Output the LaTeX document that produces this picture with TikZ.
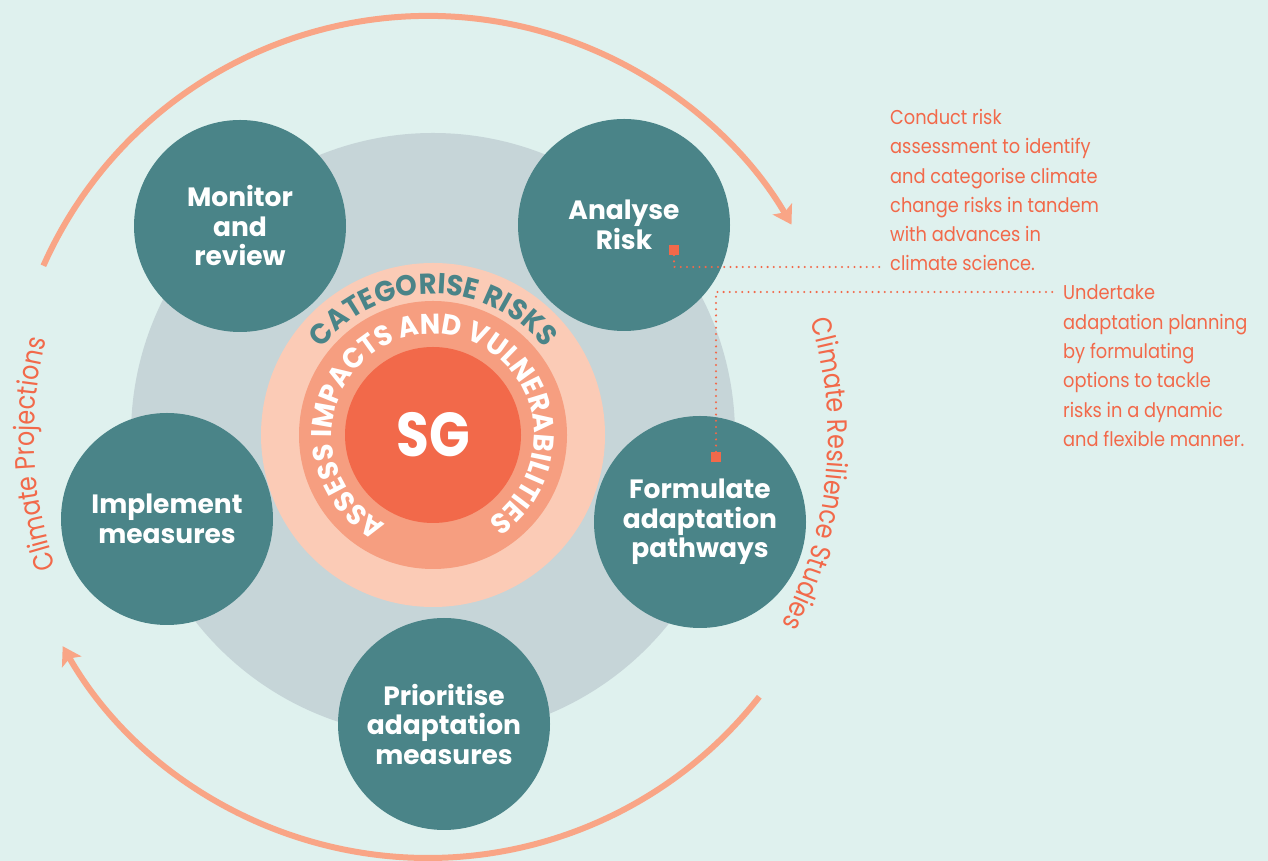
\documentclass[tikz,border=0pt]{standalone}
\usepackage{fontspec}
\usetikzlibrary{decorations.text,arrows.meta}
\newfontfamily\boldfam{Poppins}[FakeStretch=0.86]
\newfontfamily\titlefam{Poppins}
\newfontfamily\ringfam{Poppins}[FakeStretch=0.95]
\newfontfamily\lightfam{Poppins}[FakeStretch=0.89]
\newfontfamily\climfam{Poppins}[FakeStretch=0.85]
\definecolor{bgc}{HTML}{DFF1EE}
\definecolor{greyc}{HTML}{C6D5D8}
\definecolor{tealc}{HTML}{4A8488}
\definecolor{peachc}{HTML}{FBCBB6}
\definecolor{salmonc}{HTML}{F69E80}
\definecolor{orangec}{HTML}{F2694A}
\definecolor{arrowc}{HTML}{F9A586}
\newcommand\titlefnt{\titlefam\bfseries\fontsize{26.5}{29.5}\selectfont}
\newcommand\sgfnt{\boldfam\bfseries\fontsize{62}{62}\selectfont}
\newcommand\ringfnt{\ringfam\bfseries\fontsize{28.8}{30}\selectfont}
\newcommand\ringfntb{\ringfam\bfseries\fontsize{28.5}{30}\selectfont}
\newcommand\annfnt{\lightfam\fontsize{20}{29.3}\selectfont}
\newcommand\climfnt{\climfam\fontsize{28}{30}\selectfont}
\tikzset{
  stage/.style={circle, fill=tealc, minimum size=212, inner sep=0, align=center, text=white, font=\titlefnt},
  cyclearrow/.style={draw=arrowc, line width=6, -{Stealth[length=18,width=22,inset=4]}},
  marker/.style={fill=orangec, minimum size=10, inner sep=0},
  dotline/.style={draw=orangec, line width=2.3, dash pattern=on 0pt off 6.2pt, line cap=round},
  anntext/.style={anchor=north west, inner sep=0, align=left, text=orangec, font=\annfnt},
}
\begin{document}
\begin{tikzpicture}[x=1pt,y=1pt]
\useasboundingbox (0,0) rectangle (1268,861);
\fill[bgc] (0,0) rectangle (1268,861);
\coordinate (hub) at (433,426);
\coordinate (cyc) at (428,424);
% grey disc and rings
\fill[greyc] (hub) circle[radius=302];
\fill[peachc] (hub) circle[radius=172];
\fill[salmonc] (hub) circle[radius=134];
\node[circle, fill=orangec, minimum size=176, inner sep=0, text=white, font=\sgfnt] (sg) at (hub) {SG};
% ring texts
\path[decorate, decoration={text along path, text color=tealc, text align=center,
   text={|\ringfnt|CATEGORISE RISKS}}]
   ([shift={(180:141)}]hub) arc[start angle=180, end angle=0, radius=141];
\path[decorate, decoration={text along path, text color=white, text align=center,
   text={|\ringfntb|ASSESS IMPACTS AND VULNERABILITIES}}]
   ([shift={(268:101)}]hub) arc[start angle=268, end angle=-83, radius=101];
% stages
\node[stage] (monitor) at (240,635) {Monitor\\and\\review};
\node[stage] (analyse) at (624,636) {Analyse\\Risk};
\node[stage] (implement) at (167,342) {Implement\\measures};
\node[stage] (formulate) at (700,339) {Formulate\\adaptation\\pathways};
\node[stage] (prioritise) at (444,137) {Prioritise\\adaptation\\measures};
% cycle arrows
\draw[cyclearrow] ([shift={(156:421)}]cyc) arc[start angle=156, end angle=30.3, radius=421];
\draw[cyclearrow] ([shift={(-38.1:421)}]cyc) arc[start angle=-38.1, end angle=-150.2, radius=421];
% curved labels
\path[decorate, decoration={text along path, text color=orangec, text align=center,
   text={|\climfnt|Climate Projections}}]
   ([shift={(215:394)}]cyc) arc[start angle=215, end angle=150, radius=394];
\path[decorate, decoration={text along path, text color=orangec, text align=center,
   text={|\climfnt|Climate Resilience Studies}}]
   ([shift={(31:400)}]cyc) arc[start angle=31, end angle=-42, radius=400];
% annotations
\node[marker] (m1) at (674,611) {};
\node[marker] (m2) at (716,404) {};
\coordinate (e1) at (881,594);
\coordinate (e2) at (1053,569);
\draw[dotline] (m1.south) |- (e1);
\draw[dotline] (m2.north) |- (e2);
\node[anntext] (ann1) at (890,752) {Conduct risk\\assessment to identify\\and categorise climate\\change risks in tandem\\with advances in\\climate science.};
\node[anntext] (ann2) at (1063,576) {Undertake\\adaptation planning\\by formulating\\options to tackle\\risks in a dynamic\\and flexible manner.};
\end{tikzpicture}
\end{document}
